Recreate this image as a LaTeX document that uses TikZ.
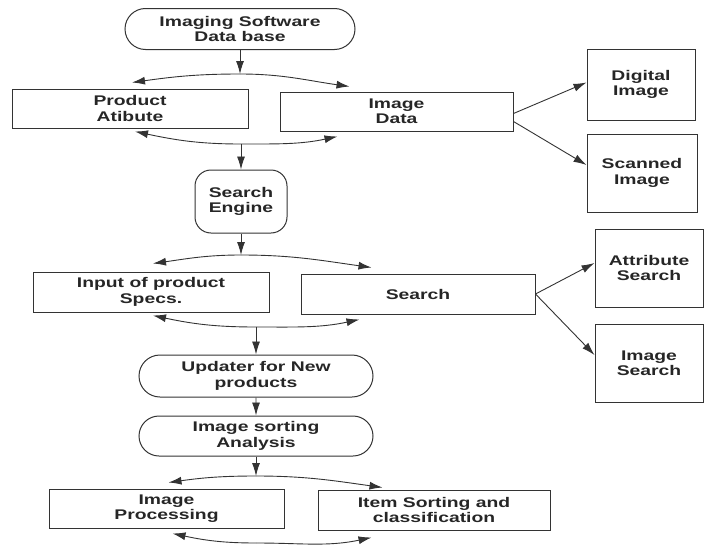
\documentclass[tikz,border=0pt]{standalone}
\usepackage{fontspec}
\setmainfont{Liberation Sans}[FakeStretch=1.38]
\usetikzlibrary{arrows.meta,shapes.misc}
\tikzset{
  txt/.style={font=\fontsize{14}{15.5}\selectfont\bfseries, text=black!85, align=center, inner sep=0pt, draw=black!80, line width=1pt},
  blk/.style={txt, rectangle},
  pill/.style={txt, rounded rectangle},
  arr/.style={draw=black!80, line width=0.9pt, -{Latex[length=13pt,width=8pt]}}
}
\begin{document}
\begin{tikzpicture}[x=1pt,y=1pt]
\useasboundingbox (0,0) rectangle (704,-546);
\node[pill, minimum width=230pt, minimum height=41pt] (db) at (240,-29) {Imaging Software\\Data base};
\node[blk, minimum width=236pt, minimum height=39pt] (attrib) at (130,-108.5) {Product\\Atibute};
\node[blk, minimum width=233pt, minimum height=39pt] (imgdata) at (396.5,-111.5) {Image\\Data};
\node[blk, minimum width=108pt, minimum height=71pt] (digital) at (641,-84.5) {Digital\\Image};
\node[blk, minimum width=110pt, minimum height=78pt] (scanned) at (642,-173) {Scanned\\Image};
\node[blk, rounded corners=16pt, minimum width=92pt, minimum height=63pt] (engine) at (241,-201.5) {Search\\Engine};
\node[blk, minimum width=236pt, minimum height=40pt] (specs) at (151,-292) {Input of product\\Specs.};
\node[blk, minimum width=234pt, minimum height=40pt] (search) at (418,-294) {Search};
\node[blk, minimum width=108pt, minimum height=78pt] (attrsearch) at (649,-268) {Attribute\\Search};
\node[blk, minimum width=108pt, minimum height=78pt] (imgsearch) at (649,-363) {Image\\Search};
\node[pill, minimum width=234pt, minimum height=42pt] (updater) at (256,-376) {Updater for New\\products};
\node[pill, minimum width=234pt, minimum height=40pt] (sorting) at (256,-436) {Image sorting\\Analysis};
\node[blk, minimum width=235pt, minimum height=39pt] (processing) at (166.5,-508.5) {Image\\Processing};
\node[blk, minimum width=232pt, minimum height=40pt] (itemsort) at (434,-510) {Item Sorting and\\classification};
\coordinate (j1) at (240,-74);
\coordinate (j2) at (241,-144);
\coordinate (j3) at (241,-255);
\coordinate (j4) at (256,-327);
\coordinate (j5) at (256,-476);
\coordinate (j6) at (256,-543);
\draw[arr] (db) -- (j1);
\draw[arr] (j1) to[out=180,in=8] ([xshift=2pt,yshift=6pt]attrib.north);
\draw[arr] (j1) to[out=0,in=172] ([xshift=70pt,yshift=5pt]imgdata.north west);
\draw[arr] (j2) to[out=180,in=-12] ([xshift=5pt,yshift=-3pt]attrib.south);
\draw[arr] (j2) to[out=0,in=192] ([xshift=58pt,yshift=-5pt]imgdata.south west);
\draw[arr] (j2) -- (engine);
\draw[arr] ([yshift=-2pt]imgdata.east) -- ([yshift=2pt]digital.west);
\draw[arr] ([yshift=-10pt]imgdata.east) -- ([yshift=8pt]scanned.west);
\draw[arr] (engine) -- (j3);
\draw[arr] (j3) to[out=180,in=8] ([xshift=2pt,yshift=8pt]specs.north);
\draw[arr] (j3) to[out=0,in=172] ([xshift=71pt,yshift=6pt]search.north west);
\draw[arr] (j4) to[out=180,in=-12] ([xshift=2pt,yshift=-3pt]specs.south);
\draw[arr] (j4) to[out=0,in=192] ([xshift=59pt,yshift=-5pt]search.south west);
\draw[arr] (j4) -- (updater);
\draw[arr] (search.east) -- ([yshift=5pt]attrsearch.west);
\draw[arr] (search.east) -- ([yshift=8pt]imgsearch.west);
\draw[arr] (updater) -- (sorting);
\draw[arr] (sorting) -- (j5);
\draw[arr] (j5) to[out=180,in=8] ([xshift=2pt,yshift=6pt]processing.north);
\draw[arr] (j5) to[out=0,in=172] ([xshift=65pt,yshift=2pt]itemsort.north west);
\draw[arr] (j6) to[out=180,in=-12] ([xshift=6pt,yshift=-5pt]processing.south);
\draw[arr] (j6) to[out=0,in=192] ([xshift=54pt,yshift=-7pt]itemsort.south west);
\end{tikzpicture}
\end{document}
